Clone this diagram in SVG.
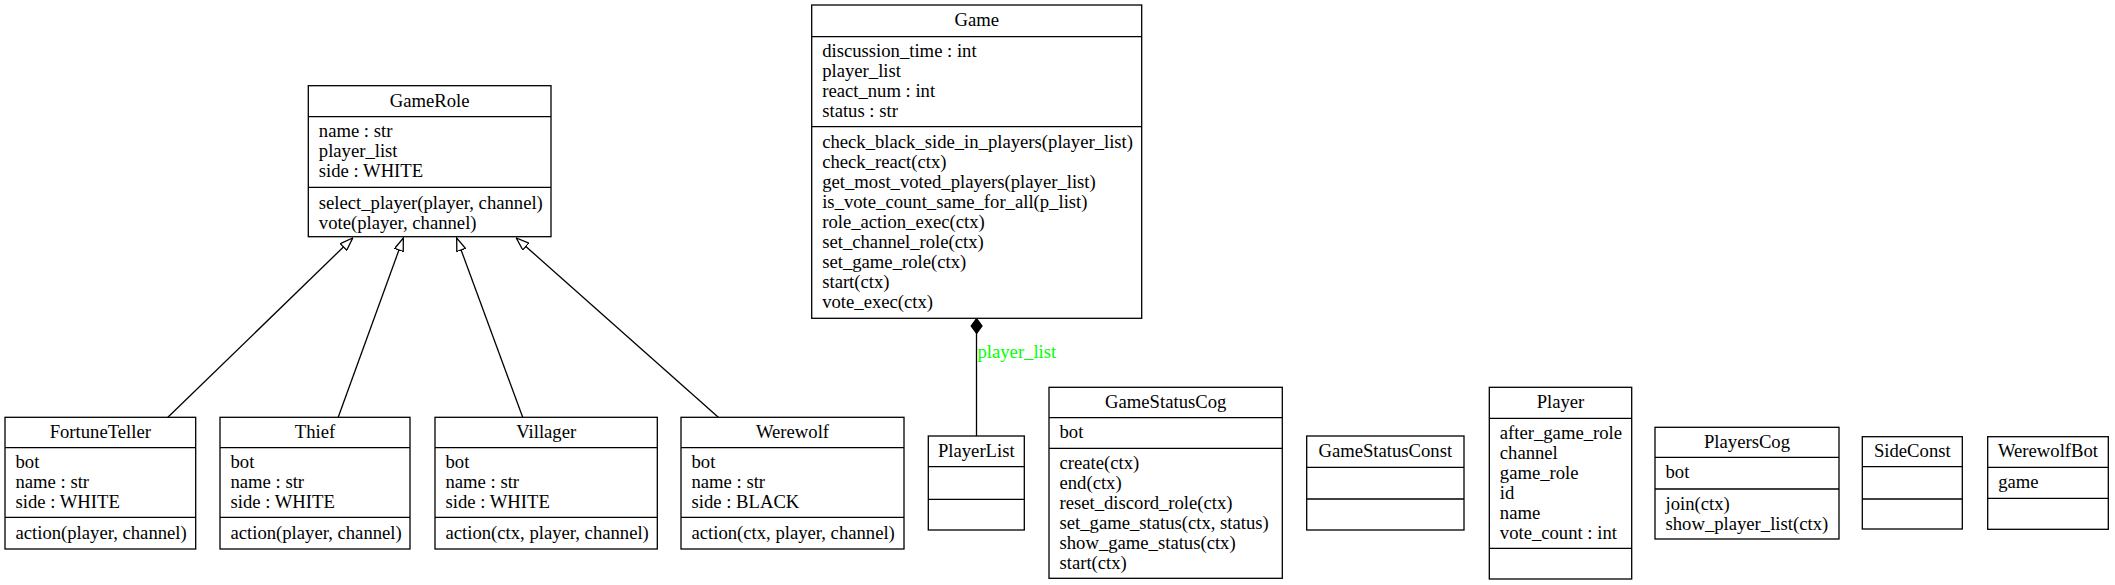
<svg xmlns="http://www.w3.org/2000/svg" width="2115" height="585" viewBox="0 0 2115 585">
<style>
.box{fill:#fff;stroke:#000;stroke-width:1.3}
.sep{stroke:#000;stroke-width:1.3}
text{font-family:"Liberation Serif","Times New Roman",serif;font-size:18.67px;fill:#000}
.t{text-anchor:middle}
.edge{stroke:#000;stroke-width:1.3;fill:none}
.lbl{fill:#00ff00}
</style>
<defs>
<marker id="inh" viewBox="0 0 14 10" refX="13.3" refY="5" markerWidth="14" markerHeight="10" markerUnits="userSpaceOnUse" orient="auto">
<path d="M0.5,0.4 L13.3,5 L0.5,9.6 Z" fill="#fff" stroke="#000" stroke-width="1.3"/>
</marker>
</defs>
<rect width="2115" height="585" fill="#fff"/>

<g id="connectors">
<line class="edge" x1="167.9" y1="417.3" x2="352.7" y2="238" marker-end="url(#inh)"/>
<line class="edge" x1="338.2" y1="417.3" x2="403.3" y2="238" marker-end="url(#inh)"/>
<line class="edge" x1="522.7" y1="417.3" x2="456.7" y2="238" marker-end="url(#inh)"/>
<line class="edge" x1="718.3" y1="417.3" x2="516.3" y2="238" marker-end="url(#inh)"/>
<line class="edge" x1="976.5" y1="333" x2="976.5" y2="436"/>
<polygon points="976.6,318.6 982,326 976.6,333.4 971.2,326" fill="#000" stroke="#000" stroke-width="1.3"/>
<text class="lbl" x="977.5" y="357.5">player_list</text>
</g>

<g id="GameRole">
<rect class="box" x="308.3" y="85.7" width="242.7" height="151"/>
<line class="sep" x1="308.3" y1="116.7" x2="551" y2="116.7"/>
<line class="sep" x1="308.3" y1="187.3" x2="551" y2="187.3"/>
<text class="t" x="429.7" y="106.7">GameRole</text>
<text x="318.8" y="137.3">name : str</text>
<text x="318.8" y="157.3">player_list</text>
<text x="318.8" y="177.3">side : WHITE</text>
<text x="318.8" y="208.5">select_player(player, channel)</text>
<text x="318.8" y="228.5">vote(player, channel)</text>
</g>

<g id="Game">
<rect class="box" x="811.7" y="5" width="330" height="313.3"/>
<line class="sep" x1="811.7" y1="36.7" x2="1141.7" y2="36.7"/>
<line class="sep" x1="811.7" y1="126.7" x2="1141.7" y2="126.7"/>
<text class="t" x="976.7" y="26">Game</text>
<text x="822.2" y="57.3">discussion_time : int</text>
<text x="822.2" y="77.3">player_list</text>
<text x="822.2" y="97.3">react_num : int</text>
<text x="822.2" y="117.3">status : str</text>
<text x="822.2" y="147.7">check_black_side_in_players(player_list)</text>
<text x="822.2" y="167.7">check_react(ctx)</text>
<text x="822.2" y="187.7">get_most_voted_players(player_list)</text>
<text x="822.2" y="207.7">is_vote_count_same_for_all(p_list)</text>
<text x="822.2" y="227.7">role_action_exec(ctx)</text>
<text x="822.2" y="247.7">set_channel_role(ctx)</text>
<text x="822.2" y="267.7">set_game_role(ctx)</text>
<text x="822.2" y="287.7">start(ctx)</text>
<text x="822.2" y="307.7">vote_exec(ctx)</text>
</g>

<g id="FortuneTeller">
<rect class="box" x="5" y="417.3" width="190.7" height="131.7"/>
<line class="sep" x1="5" y1="447.7" x2="195.7" y2="447.7"/>
<line class="sep" x1="5" y1="517.3" x2="195.7" y2="517.3"/>
<text class="t" x="100.3" y="438">FortuneTeller</text>
<text x="15.5" y="468.3">bot</text>
<text x="15.5" y="488.3">name : str</text>
<text x="15.5" y="508.3">side : WHITE</text>
<text x="15.5" y="538.5">action(player, channel)</text>
</g>

<g id="Thief">
<rect class="box" x="220" y="417.3" width="190" height="131.7"/>
<line class="sep" x1="220" y1="447.7" x2="410" y2="447.7"/>
<line class="sep" x1="220" y1="517.3" x2="410" y2="517.3"/>
<text class="t" x="315" y="438">Thief</text>
<text x="230.5" y="468.3">bot</text>
<text x="230.5" y="488.3">name : str</text>
<text x="230.5" y="508.3">side : WHITE</text>
<text x="230.5" y="538.5">action(player, channel)</text>
</g>

<g id="Villager">
<rect class="box" x="435" y="417.3" width="222.3" height="131.7"/>
<line class="sep" x1="435" y1="447.7" x2="657.3" y2="447.7"/>
<line class="sep" x1="435" y1="517.3" x2="657.3" y2="517.3"/>
<text class="t" x="546.2" y="438">Villager</text>
<text x="445.5" y="468.3">bot</text>
<text x="445.5" y="488.3">name : str</text>
<text x="445.5" y="508.3">side : WHITE</text>
<text x="445.5" y="538.5">action(ctx, player, channel)</text>
</g>

<g id="Werewolf">
<rect class="box" x="681" y="417.3" width="223" height="131.7"/>
<line class="sep" x1="681" y1="447.7" x2="904" y2="447.7"/>
<line class="sep" x1="681" y1="517.3" x2="904" y2="517.3"/>
<text class="t" x="792.5" y="438">Werewolf</text>
<text x="691.5" y="468.3">bot</text>
<text x="691.5" y="488.3">name : str</text>
<text x="691.5" y="508.3">side : BLACK</text>
<text x="691.5" y="538.5">action(ctx, player, channel)</text>
</g>

<g id="PlayerList">
<rect class="box" x="928.3" y="436" width="96" height="94"/>
<line class="sep" x1="928.3" y1="466.7" x2="1024.3" y2="466.7"/>
<line class="sep" x1="928.3" y1="499.3" x2="1024.3" y2="499.3"/>
<text class="t" x="976.3" y="457">PlayerList</text>
</g>

<g id="GameStatusCog">
<rect class="box" x="1049" y="387.3" width="233.3" height="191"/>
<line class="sep" x1="1049" y1="417.7" x2="1282.3" y2="417.7"/>
<line class="sep" x1="1049" y1="448.3" x2="1282.3" y2="448.3"/>
<text class="t" x="1165.7" y="408">GameStatusCog</text>
<text x="1059.5" y="438.3">bot</text>
<text x="1059.5" y="469">create(ctx)</text>
<text x="1059.5" y="489">end(ctx)</text>
<text x="1059.5" y="509">reset_discord_role(ctx)</text>
<text x="1059.5" y="529">set_game_status(ctx, status)</text>
<text x="1059.5" y="549">show_game_status(ctx)</text>
<text x="1059.5" y="569">start(ctx)</text>
</g>

<g id="GameStatusConst">
<rect class="box" x="1306.7" y="436" width="157.3" height="94"/>
<line class="sep" x1="1306.7" y1="467.3" x2="1464" y2="467.3"/>
<line class="sep" x1="1306.7" y1="499" x2="1464" y2="499"/>
<text class="t" x="1385.3" y="457">GameStatusConst</text>
</g>

<g id="Player">
<rect class="box" x="1489.3" y="387.3" width="142.4" height="191.7"/>
<line class="sep" x1="1489.3" y1="418.3" x2="1631.7" y2="418.3"/>
<line class="sep" x1="1489.3" y1="548.3" x2="1631.7" y2="548.3"/>
<text class="t" x="1560.5" y="408.3">Player</text>
<text x="1499.8" y="439">after_game_role</text>
<text x="1499.8" y="459">channel</text>
<text x="1499.8" y="479">game_role</text>
<text x="1499.8" y="499">id</text>
<text x="1499.8" y="519">name</text>
<text x="1499.8" y="539">vote_count : int</text>
</g>

<g id="PlayersCog">
<rect class="box" x="1655" y="427.3" width="184" height="111.7"/>
<line class="sep" x1="1655" y1="457.3" x2="1839" y2="457.3"/>
<line class="sep" x1="1655" y1="489" x2="1839" y2="489"/>
<text class="t" x="1747" y="448">PlayersCog</text>
<text x="1665.5" y="478">bot</text>
<text x="1665.5" y="509.5">join(ctx)</text>
<text x="1665.5" y="529.5">show_player_list(ctx)</text>
</g>

<g id="SideConst">
<rect class="box" x="1862.3" y="436.7" width="100" height="92.3"/>
<line class="sep" x1="1862.3" y1="466.7" x2="1962.3" y2="466.7"/>
<line class="sep" x1="1862.3" y1="499" x2="1962.3" y2="499"/>
<text class="t" x="1912.3" y="457.3">SideConst</text>
</g>

<g id="WerewolfBot">
<rect class="box" x="1987.7" y="436.7" width="120.6" height="92.6"/>
<line class="sep" x1="1987.7" y1="467.3" x2="2108.3" y2="467.3"/>
<line class="sep" x1="1987.7" y1="498.3" x2="2108.3" y2="498.3"/>
<text class="t" x="2048" y="457.3">WerewolfBot</text>
<text x="1998.2" y="488">game</text>
</g>
</svg>
